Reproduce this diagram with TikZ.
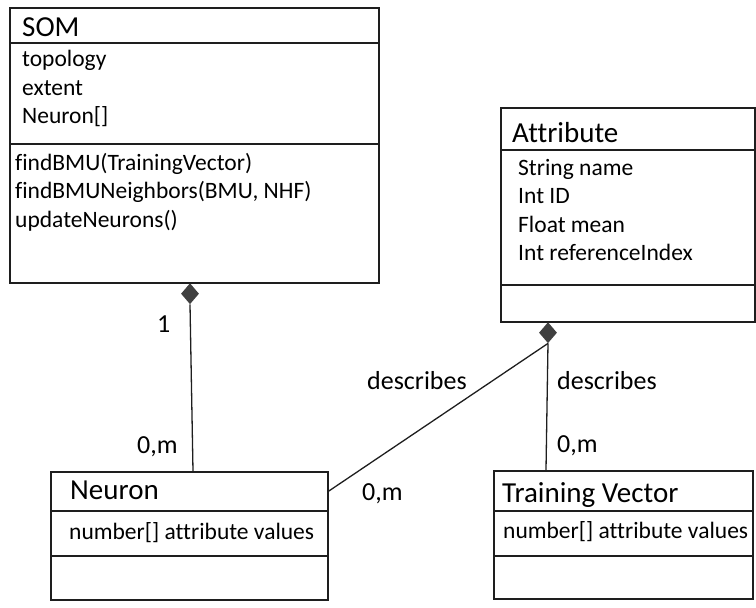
\documentclass[tikz,border=0pt]{standalone}
\usepackage{fontspec}
\setmainfont{Carlito}[Ligatures=NoCommon]
\usetikzlibrary{shapes.geometric}

\definecolor{lineColor}{RGB}{30,30,30}
\definecolor{diaColor}{RGB}{64,64,64}

\tikzset{
  cell/.style={draw=lineColor, line width=1.5pt, anchor=north west, inner sep=0pt},
  head/.style={anchor=base west, inner sep=0pt, font=\fontsize{29}{35}\selectfont},
  member/.style={anchor=north west, inner sep=0pt, align=left, font=\fontsize{23.5}{28.5}\selectfont},
  lbl/.style={anchor=base west, inner sep=0pt, font=\fontsize{26}{31}\selectfont},
  comp/.style={diamond, fill=diaColor, minimum width=18pt, minimum height=21pt, inner sep=0pt, anchor=north},
  link/.style={draw=lineColor, line width=1.3pt}
}

\begin{document}
\begin{tikzpicture}[x=1pt, y=-1pt]
  \useasboundingbox (0,0) rectangle (756,608);
  % SOM
  \node[cell, minimum width=369pt, minimum height=35pt] (somhead) at (9,7) {};
  \node[cell, minimum width=369pt, minimum height=101pt] (somattr) at (9,42) {};
  \node[cell, minimum width=369pt, minimum height=139pt] (sommeth) at (9,143) {};
  \node[head] (somname) at (22,36) {SOM};
  \node[member] (somattrs) at (22,50) {topology\\extent\\Neuron[]};
  \node[member] (sommeths) at (15,153) {findBMU(TrainingVector)\\findBMUNeighbors(BMU, NHF)\\updateNeurons()};
  % Attribute
  \node[cell, minimum width=254pt, minimum height=42pt] (attrhead) at (500,107) {};
  \node[cell, minimum width=254pt, minimum height=135pt] (attrattr) at (500,149) {};
  \node[cell, minimum width=254pt, minimum height=37pt] (attrmeth) at (500,284) {};
  \node[head] (attrname) at (512,142) {Attribute};
  \node[member] (attrattrs) at (518,159) {String name\\Int ID\\Float mean\\Int referenceIndex};
  % Neuron
  \node[cell, minimum width=277pt, minimum height=39pt] (neuhead) at (50,471) {};
  \node[cell, minimum width=277pt, minimum height=45pt] (neuattr) at (50,510) {};
  \node[cell, minimum width=277pt, minimum height=44pt] (neumeth) at (50,555) {};
  \node[head] (neuname) at (70,499) {Neuron};
  \node[member, anchor=base west] (neuattrs) at (69,539) {number[] attribute values};
  % Training Vector
  \node[cell, minimum width=259pt, minimum height=40pt] (tvhead) at (493,470) {};
  \node[cell, minimum width=259pt, minimum height=45pt] (tvattr) at (493,510) {};
  \node[cell, minimum width=259pt, minimum height=43pt] (tvmeth) at (493,555) {};
  \node[head] (tvname) at (502,502) {Training Vector};
  \node[member, anchor=base west] (tvattrs) at (503,538) {number[] attribute values};
  % Compositions
  \node[comp] (somdia) at (190,283) {};
  \node[comp] (attrdia) at (548,322) {};
  \coordinate (neutop) at (193,471);
  \coordinate (tvtop) at (546,470);
  \draw[link] (somdia.south) -- (neutop);
  \draw[link] (neuhead.east) -- (attrdia.south);
  \draw[link] (attrdia.south) -- (tvtop);
  % Multiplicities
  \node[lbl] (one) at (157,332) {1};
  \node[lbl] (neumult) at (137,453) {0,m};
  \node[lbl] (descneu) at (367,389) {describes};
  \node[lbl] (desctv) at (557,389) {describes};
  \node[lbl] (tvmult) at (557,452) {0,m};
  \node[lbl] (neumulttwo) at (362,500) {0,m};
\end{tikzpicture}
\end{document}
